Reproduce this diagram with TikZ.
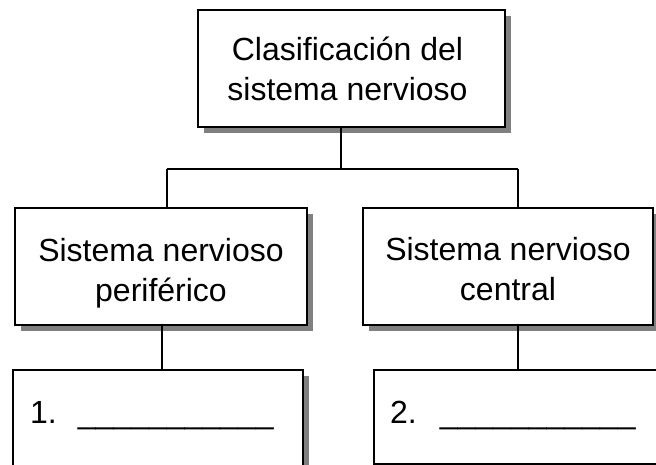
\documentclass[tikz,border=0pt]{standalone}
\usepackage{fontspec}
\setmainfont{Liberation Sans}
\usetikzlibrary{shadows}
\begin{document}
\begin{tikzpicture}[x=1pt,y=-1pt,
  box/.style={draw=black, line width=1.6pt, fill=white, inner sep=0pt,
    drop shadow={shadow xshift=6pt, shadow yshift=-6pt, fill=black!50, opacity=1}},
  conn/.style={draw=black, line width=1.4pt},
  lbl/.style={inner sep=0pt, align=center, font=\fontsize{32}{40}\selectfont}]
\useasboundingbox (0,0) rectangle (656,465);
\clip (0,0) rectangle (656,465);
\fill[white] (0,0) rectangle (656,465);
\node[box, minimum width=307pt, minimum height=117pt] (top) at (351.5,68.5) {};
\node[box, minimum width=292pt, minimum height=117pt] (per) at (161,266.5) {};
\node[box, minimum width=290pt, minimum height=117pt] (cen) at (508,266.5) {};
\node[box, minimum width=290pt, minimum height=120pt, anchor=north west] (b1) at (12,369) {};
\node[box, minimum width=300pt, minimum height=94pt, anchor=north west] (b2) at (373,369) {};
\node[lbl, xshift=-4pt, yshift=0pt] (toptxt) at (top.center) {Clasificación del\\sistema nervioso};
\node[lbl, yshift=-6.4pt] (pertxt) at (per.center) {Sistema nervioso\\periférico};
\node[lbl, yshift=-3pt] (centxt) at (cen.center) {Sistema nervioso\\central};
\node[lbl, anchor=base west] (t1) at (30,423) {1.\hspace{21pt}\_\_\_\_\_\_\_\_\_\_\_};
\node[lbl, anchor=base west] (t2) at (390,423) {2.\hspace{23pt}\_\_\_\_\_\_\_\_\_\_\_};
\coordinate (j) at (341,169);
\coordinate (jl) at (167,169);
\coordinate (jr) at (518,169);
\draw[conn] (top.south -| j) -- (j);
\draw[conn] (jl) -- (jr);
\draw[conn] (jl) -- (per.north -| jl);
\draw[conn] (jr) -- (cen.north -| jr);
\draw[conn] (per.south -| 162,0) -- (b1.north -| 162,0);
\draw[conn] (cen.south -| 518,0) -- (b2.north -| 518,0);
\end{tikzpicture}
\end{document}
